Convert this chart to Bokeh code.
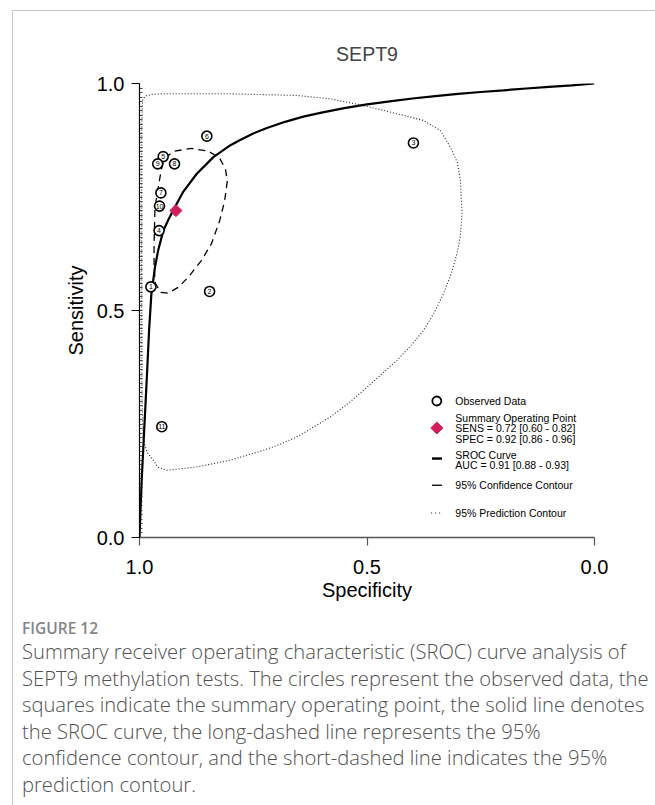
import math

from bokeh.plotting import figure
from bokeh.models import FixedTicker, Div, Range1d
from bokeh.layouts import column
from bokeh.core.properties import value
from bokeh.embed import file_html
from bokeh.resources import INLINE

# ---- data -------------------------------------------------------------
study_ids = ["1", "2", "3", "4", "5", "6", "7", "8", "9", "10", "11"]
obs_spec = [0.975, 0.846, 0.398, 0.957, 0.948, 0.852, 0.953, 0.923, 0.960, 0.956, 0.951]
obs_sens = [0.552, 0.542, 0.869, 0.676, 0.839, 0.884, 0.759, 0.823, 0.823, 0.730, 0.244]

summary_spec = [0.92]
summary_sens = [0.72]

sroc_spec = [1.0, 0.998, 0.995, 0.991, 0.987, 0.983, 0.979, 0.974, 0.9659, 0.9586,
             0.9476, 0.9366, 0.9234, 0.9036, 0.8741, 0.8376, 0.8009, 0.78, 0.75, 0.72,
             0.68, 0.64, 0.60, 0.55, 0.50, 0.45, 0.40, 0.35, 0.30, 0.25,
             0.20, 0.15, 0.10, 0.05, 0.0]
sroc_sens = [0.0, 0.055, 0.13, 0.21, 0.29, 0.37, 0.455, 0.535, 0.596, 0.634,
             0.676, 0.700, 0.7255, 0.762, 0.8012, 0.8378, 0.8635, 0.875, 0.890, 0.902,
             0.9156, 0.927, 0.936, 0.9456, 0.954, 0.9607, 0.967, 0.9722, 0.977, 0.9813,
             0.985, 0.989, 0.9926, 0.996, 1.0]

conf_spec = [0.952, 0.945, 0.923, 0.886, 0.849, 0.824, 0.811, 0.807, 0.813, 0.824,
             0.842, 0.864, 0.893, 0.915, 0.937, 0.953, 0.965, 0.968, 0.968, 0.966,
             0.959, 0.952]
conf_sens = [0.811, 0.836, 0.851, 0.857, 0.851, 0.836, 0.811, 0.785, 0.741, 0.697,
             0.647, 0.610, 0.573, 0.551, 0.538, 0.540, 0.559, 0.595, 0.646, 0.727,
             0.770, 0.811]

pred_spec = [0.9934, 0.9879, 0.9725, 0.9483, 0.8009, 0.6535, 0.5809, 0.5083, 0.4334, 0.3762,
             0.3388, 0.3168, 0.3014, 0.2948, 0.2911, 0.2948, 0.3021, 0.3146, 0.3316, 0.3520,
             0.3756, 0.4048, 0.4341, 0.4708, 0.5076, 0.5435, 0.5809, 0.6183, 0.6541, 0.6909,
             0.7276, 0.8009, 0.8741, 0.9402, 0.9593, 0.9696, 0.9835, 0.9916, 0.9945, 0.9952,
             0.9952, 0.9952, 0.9934]
pred_sens = [0.9626, 0.9725, 0.9758, 0.9773, 0.9773, 0.9736, 0.9663, 0.9516, 0.9333, 0.9186,
             0.8965, 0.8598, 0.8261, 0.7865, 0.7138, 0.6654, 0.6258, 0.5818, 0.5378, 0.4959,
             0.4563, 0.4211, 0.3903, 0.3573, 0.3242, 0.2934, 0.2655, 0.2428, 0.2214, 0.2054,
             0.1922, 0.1702, 0.1554, 0.1481, 0.1547, 0.1702, 0.1878, 0.2142, 0.3022, 0.5223,
             0.7425, 0.8965, 0.9626]

axis_ticks = [0.0, 0.5, 1.0]
tick_labels = {0.0: "0.0", 0.5: "0.5", 1.0: "1.0"}

legend_lines = [
    "Observed Data",
    "Summary Operating Point",
    "SENS = 0.72 [0.60 - 0.82]",
    "SPEC = 0.92 [0.86 - 0.96]",
    "SROC Curve",
    "AUC = 0.91 [0.88 - 0.93]",
    "95% Confidence Contour",
    "95% Prediction Contour",
]

FONT = "Liberation Sans"
MARKER_COLOR = "#d31c5b"

# ---- figure -------------------------------------------------------------
p = figure(
    width=642, height=594,
    frame_width=455, frame_height=454,
    min_border_left=126, min_border_right=61, min_border_top=72, min_border_bottom=68,
    x_range=Range1d(1.0, 0.0), y_range=Range1d(0.0, 1.0),
    title="SEPT9",
    output_backend="svg", toolbar_location=None,
    background_fill_color="white", border_fill_color="white",
)
p.outline_line_color = None
p.grid.visible = False

p.title.align = "center"
p.title.text_font = FONT
p.title.text_font_size = "19.5px"
p.title.text_font_style = "normal"
p.title.standoff = 38

for ax in (p.xaxis[0], p.yaxis[0]):
    ax.major_label_overrides = tick_labels
    ax.major_label_text_font = FONT
    ax.major_label_text_font_size = "20px"
    ax.major_label_text_color = "black"
    ax.axis_label_text_font = FONT
    ax.axis_label_text_font_size = "20px"
    ax.axis_label_text_font_style = "normal"
    ax.axis_label_text_color = "black"
    ax.major_tick_in = 0
    ax.major_tick_out = 8
    ax.major_tick_line_width = 1.2

p.xaxis.ticker = FixedTicker(ticks=axis_ticks)
p.xaxis.minor_tick_line_color = None
p.xaxis.axis_line_color = "#555555"
p.xaxis.axis_line_width = 1.5
p.xaxis.major_tick_line_color = "#555555"
p.xaxis.axis_label = "Specificity"
p.xaxis.major_label_standoff = 14
p.xaxis.axis_label_standoff = 2

p.yaxis.ticker = FixedTicker(ticks=axis_ticks, minor_ticks=[i / 100 for i in range(1, 100)])
p.yaxis.minor_tick_in = 3
p.yaxis.minor_tick_out = 0
p.yaxis.minor_tick_line_color = "#222222"
p.yaxis.minor_tick_line_width = 0.8
p.yaxis.axis_line_color = "black"
p.yaxis.axis_line_width = 1.2
p.yaxis.axis_label = "Sensitivity"
p.yaxis.major_label_standoff = 7
p.yaxis.axis_label_standoff = 7

# ---- contours and curve -----------------------------------------------
p.line(pred_spec, pred_sens, line_color="#222222", line_width=1.1, line_dash="1 2")
p.line(conf_spec, conf_sens, line_color="black", line_width=1.3, line_dash="7 5")
p.line(sroc_spec, sroc_sens, line_color="black", line_width=2.2)

# ---- observed studies ---------------------------------------------------
p.scatter(obs_spec, obs_sens, marker="circle", size=10, fill_color="white",
          line_color="black", line_width=1.6)
p.text(obs_spec, obs_sens, text=study_ids, text_font=value(FONT), text_font_size="7px",
       text_align="center", text_baseline="middle", text_color="black")

# ---- summary point (a square turned 45 degrees) -------------------------
p.scatter(summary_spec, summary_sens, marker="square", size=8.5, angle=math.pi / 4,
          fill_color=MARKER_COLOR, line_color=MARKER_COLOR)

# ---- legend (drawn in data space, lower right of the panel) -------------
lx_marker = 0.3465
lx_text = 0.3058
lx0, lx1 = 0.3571, 0.3351
p.scatter([lx_marker], [0.3007], marker="circle", size=9, fill_color="white",
          line_color="black", line_width=1.8)
p.scatter([lx_marker], [0.2412], marker="square", size=8.5, angle=math.pi / 4,
          fill_color=MARKER_COLOR, line_color=MARKER_COLOR)
p.line([lx0, lx1], [0.1739, 0.1739], line_color="black", line_width=2.4)
p.line([lx0, lx1], [0.1151, 0.1151], line_color="black", line_width=1.3)
p.line([lx0 + 0.002, lx1 - 0.002], [0.0541, 0.0541], line_color="#222222",
       line_width=1.1, line_dash="1 3")
p.text([lx_text] * len(legend_lines),
       [0.3007, 0.2641, 0.2412, 0.2179, 0.1827, 0.1607, 0.1151, 0.0541],
       text=legend_lines, text_font=value(FONT), text_font_size="10.5px",
       text_align="left", text_baseline="middle", text_color="black")

# ---- caption ------------------------------------------------------------
caption_html = (
    "<div style=\"font-family:'Open Sans'; white-space:nowrap; padding-left:4px;\">"
    "<div style=\"font-size:15.5px; font-weight:600; color:#858585; line-height:20px; "
    "margin-top:8px;\">FIGURE 12</div>"
    "<div style=\"font-size:20.2px; font-weight:300; color:#505050; line-height:26.5px;\">"
    "Summary receiver operating characteristic (SROC) curve analysis of<br>"
    "SEPT9 methylation tests. The circles represent the observed data, the<br>"
    "squares indicate the summary operating point, the solid line denotes<br>"
    "the SROC curve, the long-dashed line represents the 95%<br>"
    "confidence contour, and the short-dashed line indicates the 95%<br>"
    "prediction contour.</div></div>"
)
cap = Div(text=caption_html, width=642, height=200)

layout = column(
    p, cap,
    margin=(10, 0, 0, 12),
    spacing=0,
    styles={"border-left": "1px solid #c8c8c8", "border-top": "1px solid #c8c8c8",
            "background-color": "white"},
)

open("out.html", "w").write(file_html(layout, INLINE))
